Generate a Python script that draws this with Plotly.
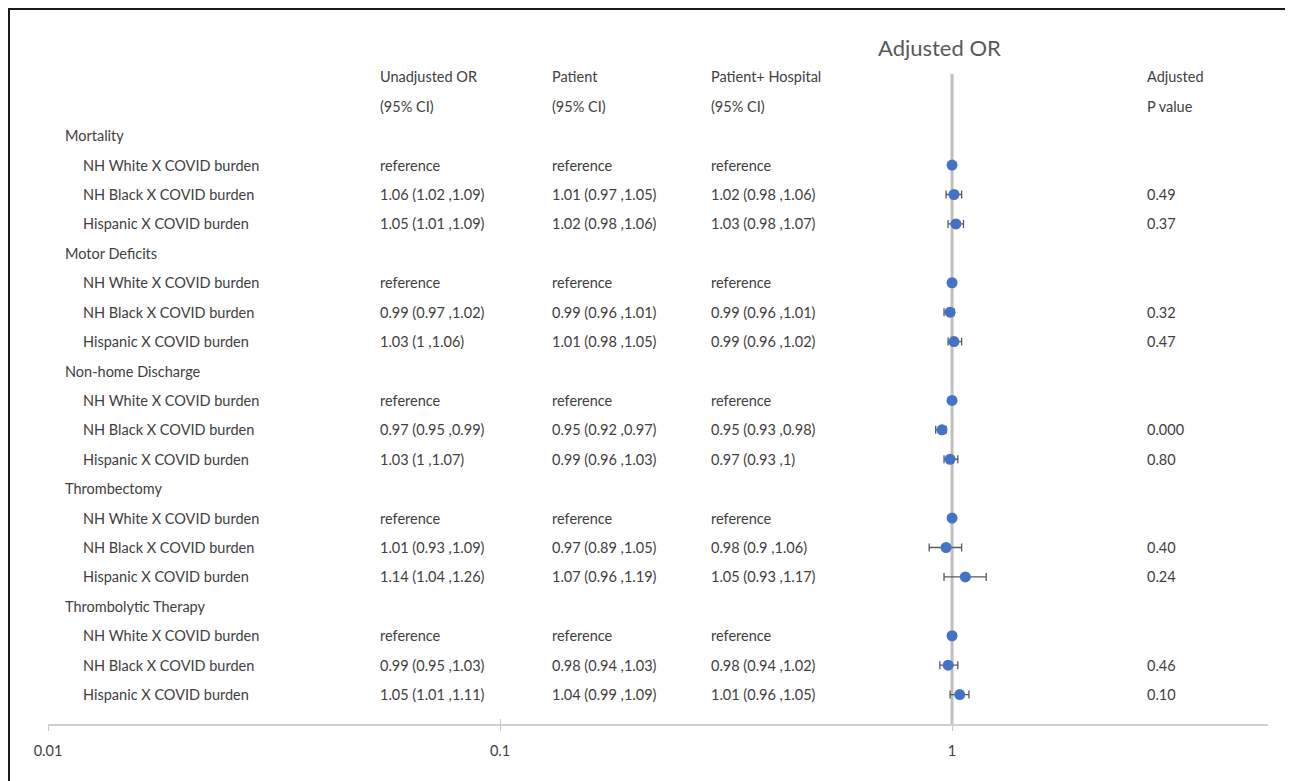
import math
import plotly.graph_objects as go

# ---------------- data ----------------
groups = ["Mortality", "Motor Deficits", "Non-home Discharge", "Thrombectomy", "Thrombolytic Therapy"]
subgroups = ["NH White X COVID burden", "NH Black X COVID burden", "Hispanic X COVID burden"]
reference_label = "reference"

# non-reference rows, in order: (group, NH Black), (group, Hispanic)
unadj_or = [1.06, 1.05, 0.99, 1.03, 0.97, 1.03, 1.01, 1.14, 0.99, 1.05]
unadj_lo = [1.02, 1.01, 0.97, 1, 0.95, 1, 0.93, 1.04, 0.95, 1.01]
unadj_hi = [1.09, 1.09, 1.02, 1.06, 0.99, 1.07, 1.09, 1.26, 1.03, 1.11]

pat_or = [1.01, 1.02, 0.99, 1.01, 0.95, 0.99, 0.97, 1.07, 0.98, 1.04]
pat_lo = [0.97, 0.98, 0.96, 0.98, 0.92, 0.96, 0.89, 0.96, 0.94, 0.99]
pat_hi = [1.05, 1.06, 1.01, 1.05, 0.97, 1.03, 1.05, 1.19, 1.03, 1.09]

hosp_or = [1.02, 1.03, 0.99, 0.99, 0.95, 0.97, 0.98, 1.05, 0.98, 1.01]
hosp_lo = [0.98, 0.98, 0.96, 0.96, 0.93, 0.93, 0.9, 0.93, 0.94, 0.96]
hosp_hi = [1.06, 1.07, 1.01, 1.02, 0.98, 1, 1.06, 1.17, 1.02, 1.05]

p_values = ["0.49", "0.37", "0.32", "0.47", "0.000", "0.80", "0.40", "0.24", "0.46", "0.10"]

reference_or = 1.0
tick_vals = [0.01, 0.1, 1]
tick_text = ["0.01", "0.1", "1"]

col_headers = [("Unadjusted OR", "(95% CI)"), ("Patient", "(95% CI)"),
               ("Patient+ Hospital", "(95% CI)"), ("Adjusted", "P value")]
title_text = "Adjusted OR"

# ---------------- layout helpers ----------------
OFF = 8  # page body margin
W, H = 1293 - OFF, 781 - OFF
ML, MR, MT, MB = 48 - OFF, 25, 18 - OFF, 57
PW = W - ML - MR
PH = H - MT - MB

def px_x(px):
    return (px - OFF - ML) / PW

TXT = "#404040"
FONT = "Lato"
FS = 14.5
PAD = 2  # annotation internal padding

x_group = px_x(65 - PAD)
x_sub = px_x(83 - PAD)
x_cols = [px_x(380 - PAD), px_x(552 - PAD), px_x(711 - PAD), px_x(1147 - PAD)]
x_title = px_x(939)

def fmt(o, l, h):
    return f"{o:g} ({l:g} ,{h:g})"

annotations = []

def add_text(x, y, text, size=FS, xanchor="left", color=TXT):
    annotations.append(dict(x=x, y=y, xref="paper", yref="y", text=text, showarrow=False,
                            xanchor=xanchor, yanchor="middle",
                            font=dict(family=FONT, size=size, color=color)))

add_text(x_title, -3, title_text, size=22, xanchor="center", color="#595959")
for (h1, h2), xc in zip(col_headers, x_cols):
    add_text(xc, -2, h1)
    add_text(xc, -1, h2)

ref_y, est_y, est_x, err_p, err_m = [], [], [], [], []
k = 0
for g, gname in enumerate(groups):
    base = 4 * g
    add_text(x_group, base, gname)
    for s, sname in enumerate(subgroups):
        row = base + 1 + s
        add_text(x_sub, row, sname)
        if s == 0:
            for xc in x_cols[:3]:
                add_text(xc, row, reference_label)
            ref_y.append(row)
        else:
            add_text(x_cols[0], row, fmt(unadj_or[k], unadj_lo[k], unadj_hi[k]))
            add_text(x_cols[1], row, fmt(pat_or[k], pat_lo[k], pat_hi[k]))
            add_text(x_cols[2], row, fmt(hosp_or[k], hosp_lo[k], hosp_hi[k]))
            add_text(x_cols[3], row, p_values[k])
            est_y.append(row)
            est_x.append(pat_or[k])
            err_p.append(pat_hi[k] - pat_or[k])
            err_m.append(pat_or[k] - pat_lo[k])
            k += 1

fig = go.Figure()

# reference line at OR = 1
fig.add_trace(go.Scatter(x=[reference_or, reference_or], y=[-2.1, 20.15], mode="lines",
                         line=dict(color="#BFBFBF", width=3), cliponaxis=False,
                         hoverinfo="skip", showlegend=False))

fig.add_trace(go.Scatter(x=[reference_or] * len(ref_y), y=ref_y, mode="markers",
                         marker=dict(color="#4472C4", size=11), showlegend=False))

fig.add_trace(go.Scatter(x=est_x, y=est_y, mode="markers",
                         marker=dict(color="#4472C4", size=11),
                         error_x=dict(type="data", array=err_p, arrayminus=err_m, symmetric=False,
                                      color="#595959", thickness=1.3, width=4),
                         showlegend=False))

# invisible trace on overlay axis to draw the inside half of the tick marks
fig.add_trace(go.Scatter(x=[reference_or], y=[0], xaxis="x2", mode="markers",
                         marker=dict(opacity=0), hoverinfo="skip", showlegend=False))

xr = [math.log10(0.01), math.log10(5)]
fig.update_layout(
    width=W, height=H,
    margin=dict(l=ML, r=MR, t=MT, b=MB),
    paper_bgcolor="white", plot_bgcolor="white",
    xaxis=dict(type="log", range=xr, tickvals=tick_vals, ticktext=tick_text,
               showgrid=False, zeroline=False, showline=True, linecolor="#D0D0D0", linewidth=1.5,
               ticks="outside", ticklen=5, tickwidth=1, tickcolor="#C8C8C8",
               ticklabelstandoff=8,
               tickfont=dict(family=FONT, size=FS, color=TXT)),
    xaxis2=dict(type="log", range=xr, tickvals=tick_vals, overlaying="x", anchor="y", side="bottom",
                showgrid=False, zeroline=False, showline=False, showticklabels=False,
                ticks="inside", ticklen=5, tickwidth=1, tickcolor="#C8C8C8"),
    yaxis=dict(range=[20, -4], visible=False, showgrid=False, zeroline=False),
    annotations=annotations,
    shapes=[dict(type="rect", xref="paper", yref="paper",
                 x0=(1 - ML) / PW, x1=(1280 - ML) / PW, y0=(H - MB - 790) / PH, y1=(H - MB - 1) / PH,
                 line=dict(color="#1A1A1A", width=2), fillcolor="rgba(0,0,0,0)", layer="above")],
)

fig.write_html("out.html")
